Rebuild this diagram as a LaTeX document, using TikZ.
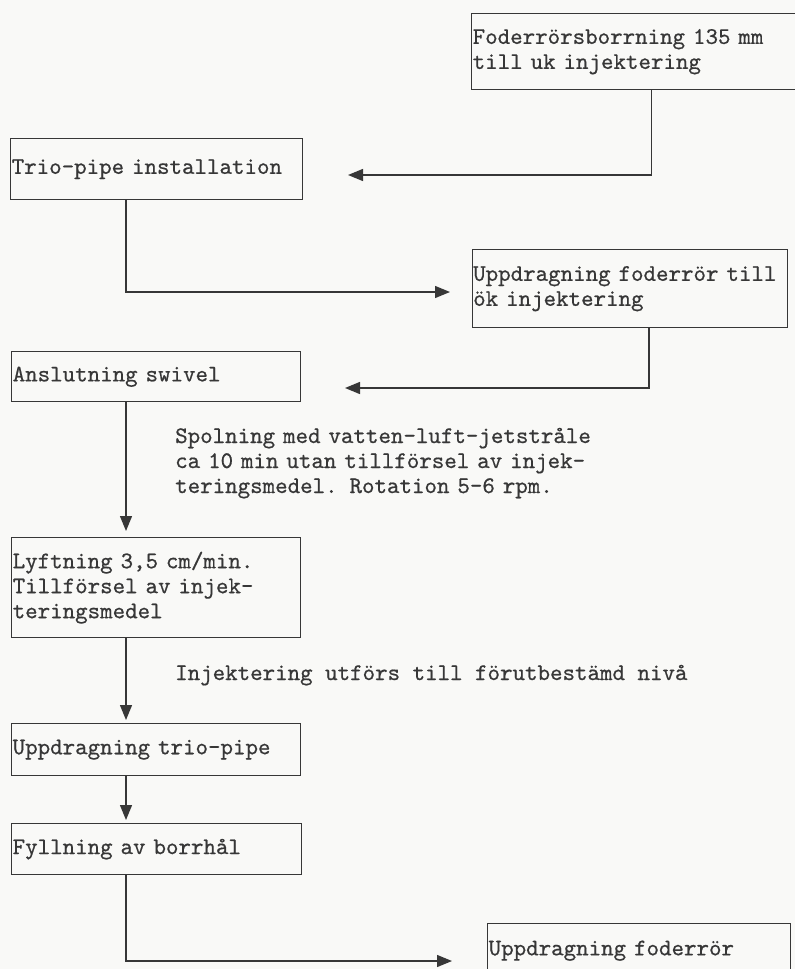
\documentclass[tikz,border=0pt]{standalone}
\usepackage{fontspec}
\setmonofont{lmmono10-regular.otf}[FakeBold=0.6]
\usetikzlibrary{arrows.meta}
\definecolor{paper}{RGB}{249,249,247}
\definecolor{ink}{RGB}{55,55,55}
\begin{document}
\begin{tikzpicture}[x=1pt,y=-1pt,
  every node/.style={font=\ttfamily\fontsize{23.8}{25}\selectfont, text=ink},
  box/.style={draw=ink, line width=1.4pt, rectangle, anchor=north west, inner xsep=1pt, inner ysep=0pt, align=left},
  flow/.style={draw=ink, line width=1.3pt, -{Triangle[length=15pt,width=12pt]}},
  lbl/.style={anchor=base west, align=left, inner sep=0pt}]
\fill[paper] (0,0) rectangle (795,969);
\useasboundingbox (0,0) rectangle (795,969);

\node[box, text width=358pt, minimum height=76pt] (f1) at (471,13) {Foderrörsborrning 135 mm\\till uk injektering};
\node[box, text width=290pt, minimum height=61pt] (trio) at (10,138) {Trio-pipe installation};
\node[box, inner xsep=0.5pt, text width=314pt, minimum height=78pt] (upp1) at (472,249) {Uppdragning foderrör till\\ök injektering};
\node[box, text width=287pt, minimum height=50pt] (ansl) at (11,351) {Anslutning swivel};
\node[box, text width=287pt, minimum height=100pt] (lyft) at (11,537) {Lyftning 3,5 cm/min.\\Tillförsel av injek-\\teringsmedel};
\node[box, text width=287pt, minimum height=52pt] (upptrio) at (11,723) {Uppdragning trio-pipe};
\node[box, text width=288pt, minimum height=51pt] (fyll) at (11,823) {Fyllning av borrhål};
\node[box, text width=301pt, minimum height=54pt] (uppfod) at (487,923) {Uppdragning foderrör};

\node[lbl, text width=440pt] (spol) at (175,443) {Spolning med vatten-luft-jetstråle\\ca 10 min utan tillförsel av injek-\\teringsmedel. Rotation 5-6 rpm.};
\node[lbl] (inj) at (175,680) {Injektering utförs till förutbestämd nivå};

\coordinate (xa) at (126,0);
\coordinate (xb) at (649,0);
\coordinate (t1) at (348,175);
\coordinate (t2) at (450,292);
\coordinate (t3) at (345,388);
\coordinate (t4) at (452,961);

\draw[flow] (f1.south) |- (t1);
\draw[flow] (trio.south -| xa) |- (t2);
\draw[flow] (upp1.south -| xb) |- (t3);
\draw[flow, shorten >=6pt] (ansl.south -| xa) -- (lyft.north -| xa);
\draw[flow, shorten >=3pt] (lyft.south -| xa) -- (upptrio.north -| xa);
\draw[flow, shorten >=3pt] (upptrio.south -| xa) -- (fyll.north -| xa);
\draw[flow] (fyll.south -| xa) |- (t4);
\end{tikzpicture}
\end{document}
